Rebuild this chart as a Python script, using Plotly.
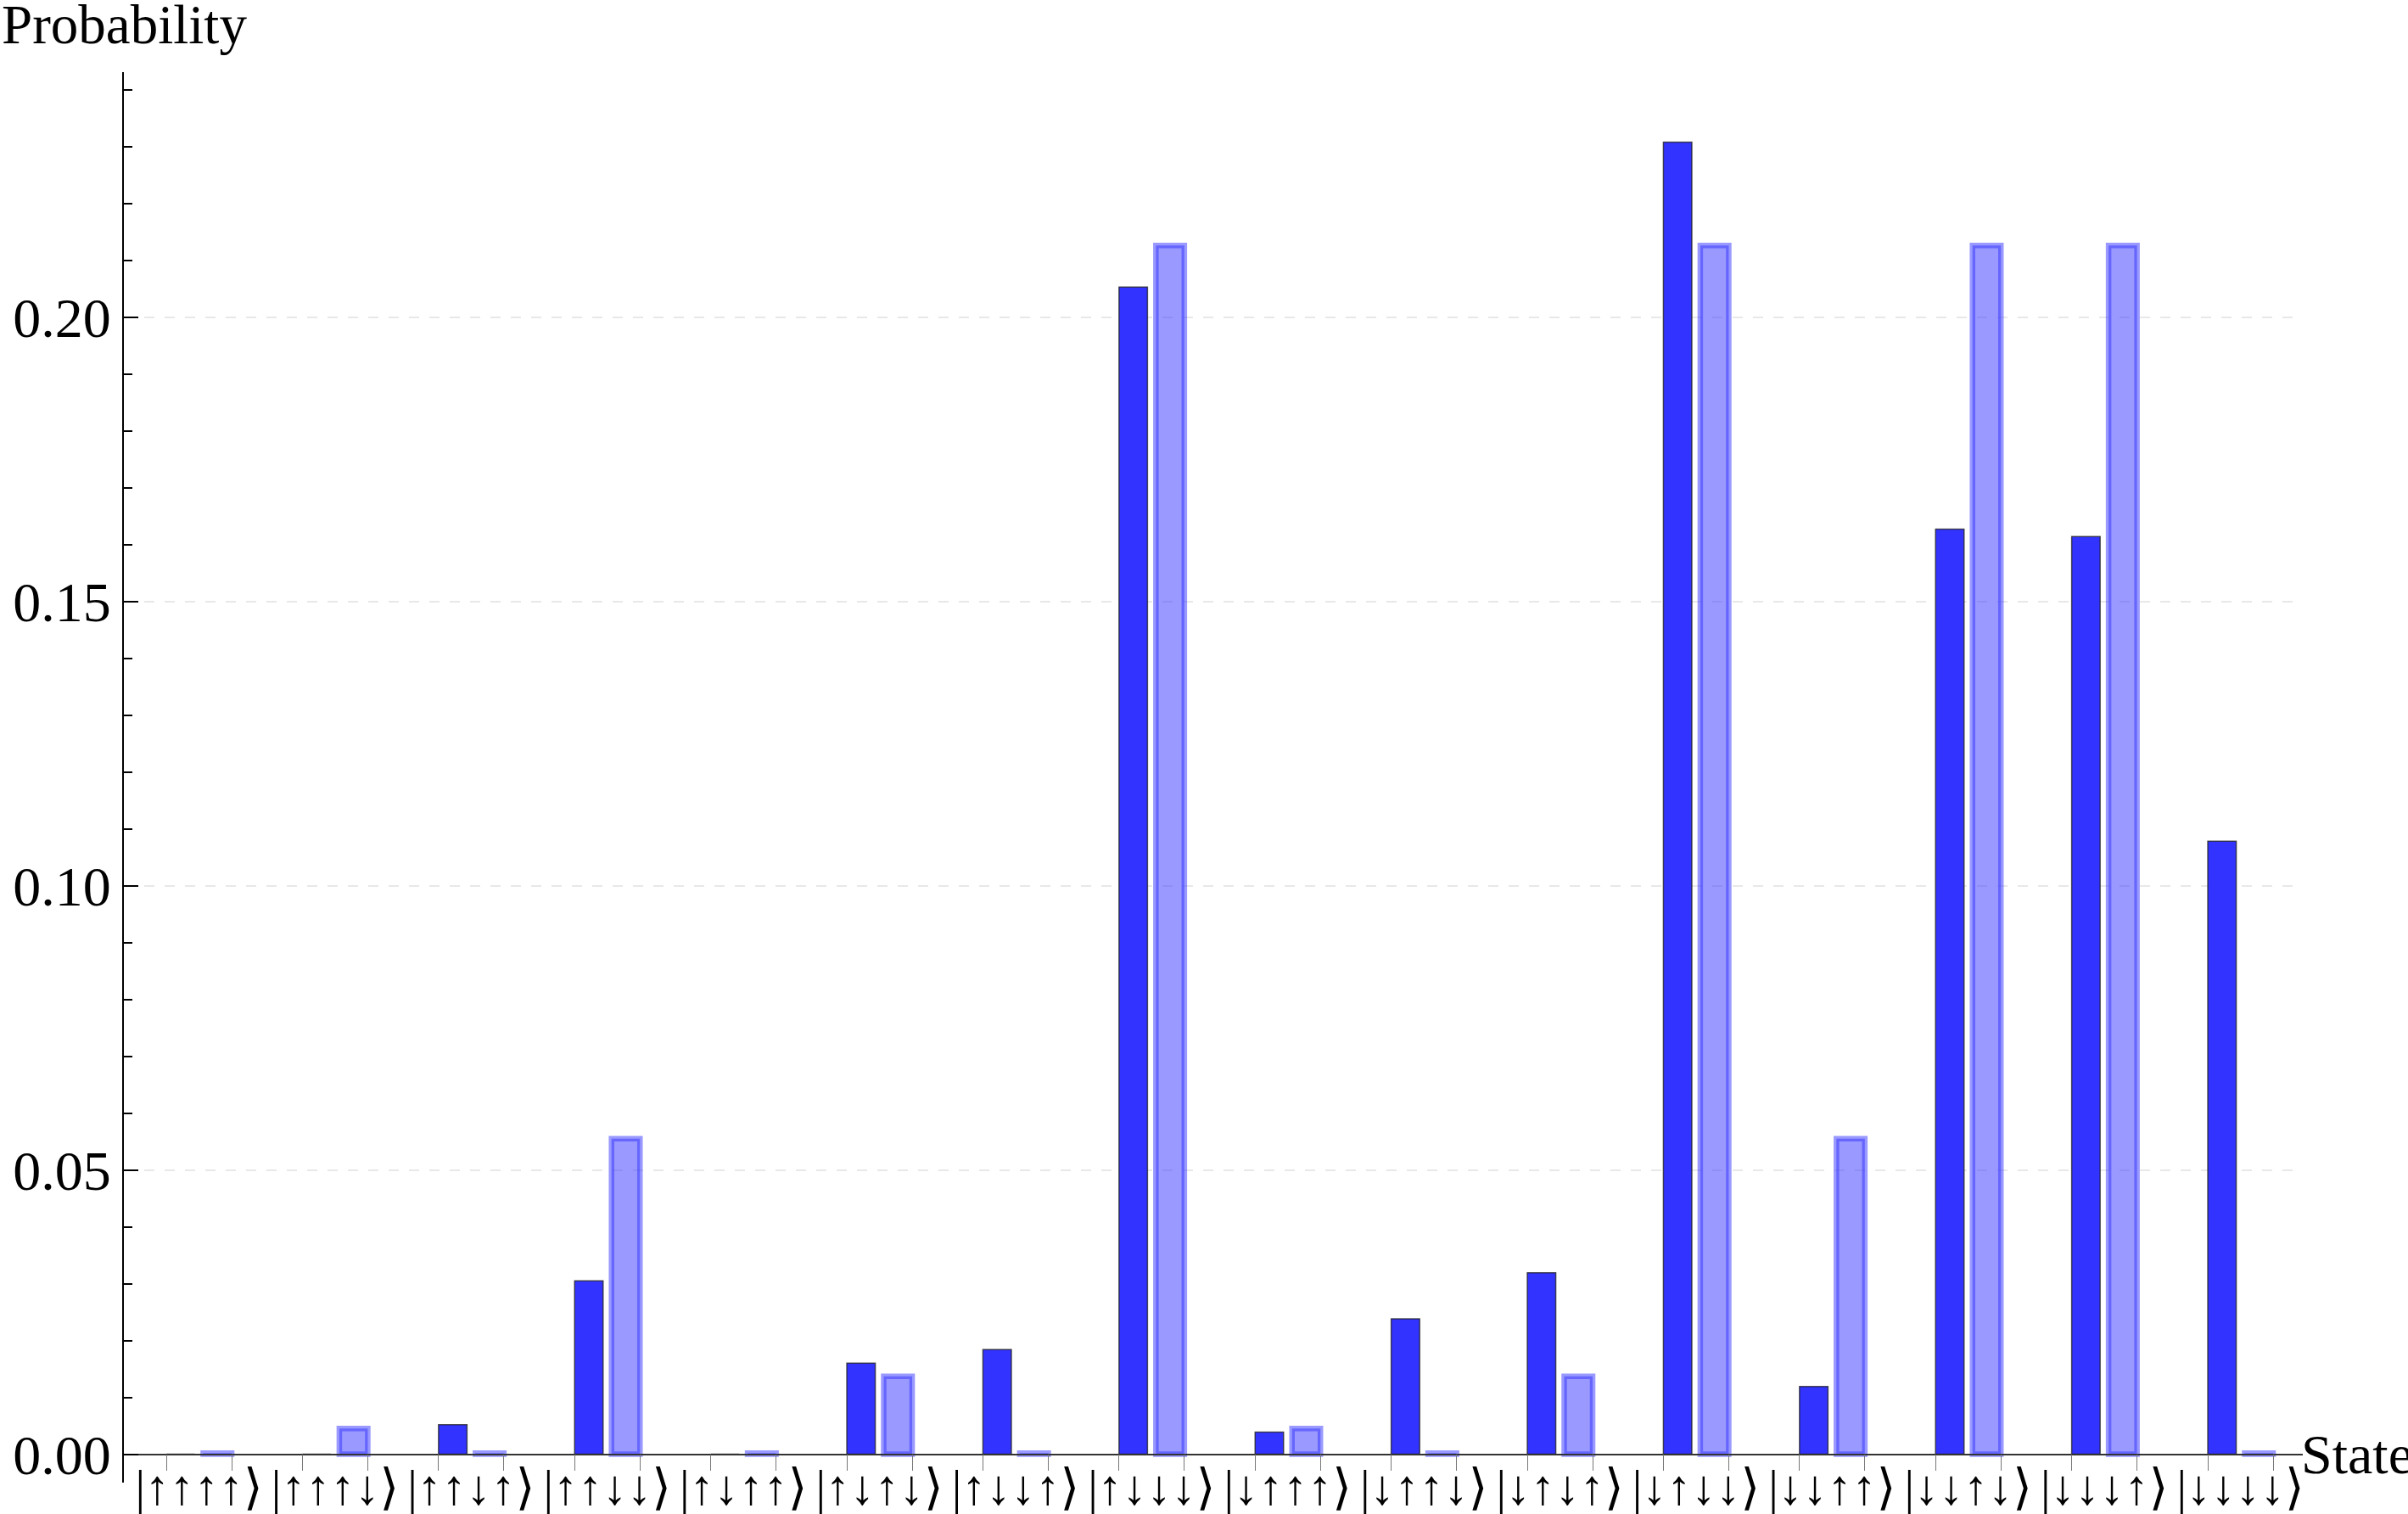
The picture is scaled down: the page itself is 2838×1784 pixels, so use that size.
import plotly.graph_objects as go

# ---- data ----
states = ["|↑↑↑↑⟩", "|↑↑↑↓⟩", "|↑↑↓↑⟩", "|↑↑↓↓⟩",
          "|↑↓↑↑⟩", "|↑↓↑↓⟩", "|↑↓↓↑⟩", "|↑↓↓↓⟩",
          "|↓↑↑↑⟩", "|↓↑↑↓⟩", "|↓↑↓↑⟩", "|↓↑↓↓⟩",
          "|↓↓↑↑⟩", "|↓↓↑↓⟩", "|↓↓↓↑⟩", "|↓↓↓↓⟩"]
measured = [0.0, 0.0, 0.0052, 0.0305, 0.0, 0.0160, 0.0184, 0.2053,
            0.0039, 0.0238, 0.0319, 0.2308, 0.0119, 0.1627, 0.1614, 0.1078]
ideal = [0.0002, 0.0045, 0.0002, 0.0555, 0.0002, 0.0137, 0.0002, 0.2126,
         0.0045, 0.0002, 0.0137, 0.2126, 0.0555, 0.2126, 0.2126, 0.0002]
y_tick_vals = [0.0, 0.05, 0.10, 0.15, 0.20]

# ---- geometry (category units) ----
bar_w = 0.209
dark_off = -0.240
light_off = 0.031
x_pos = list(range(len(states)))
edges = []
for i in x_pos:
    edges += [i - 0.240, i + 0.240]

y_min, y_max = -0.005, 0.2431
x_min, x_max = -0.552, 15.458
axis_pos = (0 - y_min) / (y_max - y_min)

font_fam = "Liberation Serif, Times New Roman, DejaVu Serif, serif"

fig = go.Figure()
fig.add_trace(go.Bar(
    x=x_pos, y=measured, width=bar_w, offset=dark_off,
    marker=dict(color="rgb(51,51,255)",
                line=dict(color="rgba(30,30,30,0.75)", width=1.5)),
    hoverinfo="skip", showlegend=False))
fig.add_trace(go.Bar(
    x=x_pos, y=ideal, width=bar_w, offset=light_off,
    marker=dict(color="rgba(51,51,255,0.5)",
                line=dict(color="rgba(51,51,255,0.5)", width=6.5)),
    hoverinfo="skip", showlegend=False))

fig.update_layout(
    width=2838, height=1784,
    margin=dict(l=146, r=124, t=85, b=37, pad=0, autoexpand=False),
    paper_bgcolor="white", plot_bgcolor="white",
    barmode="overlay",
    font=dict(family=font_fam, color="black"),
    xaxis=dict(
        type="linear", range=[x_min, x_max], automargin=False,
        tickmode="array", tickvals=x_pos, ticktext=states, tickangle=0,
        ticks="", showgrid=False, zeroline=False,
        showline=True, linecolor="#333333", linewidth=1.5,
        anchor="free", position=axis_pos, layer="above traces",
        tickfont=dict(size=58, family=font_fam),
        ticklabelstandoff=-12,
        minor=dict(tickmode="array", tickvals=edges, ticks="outside",
                   ticklen=19, tickwidth=1, tickcolor="#777777",
                   showgrid=False),
    ),
    yaxis=dict(
        range=[y_min, y_max], automargin=False,
        tickmode="array", tickvals=y_tick_vals, tickformat=".2f",
        ticks="inside", ticklen=17, tickwidth=2, tickcolor="black",
        showline=True, linecolor="black", linewidth=2,
        showgrid=True, gridcolor="#e8e8e8", gridwidth=1.5, griddash="12px,12px",
        zeroline=False, layer="above traces",
        tickfont=dict(size=66, family=font_fam),
        minor=dict(tick0=0, dtick=0.01, ticks="inside", ticklen=10,
                   tickwidth=1.5, tickcolor="black", showgrid=False),
    ),
    annotations=[
        dict(text="Probability", xref="paper", yref="paper", x=0, y=1,
             xanchor="left", yanchor="bottom", xshift=-146, yshift=18,
             showarrow=False, font=dict(size=65, family=font_fam)),
        dict(text="State", xref="paper", yref="y", x=1, y=0,
             xanchor="left", yanchor="middle", xshift=-4,
             showarrow=False, font=dict(size=66, family=font_fam)),
    ],
)

fig.write_html("out.html")
